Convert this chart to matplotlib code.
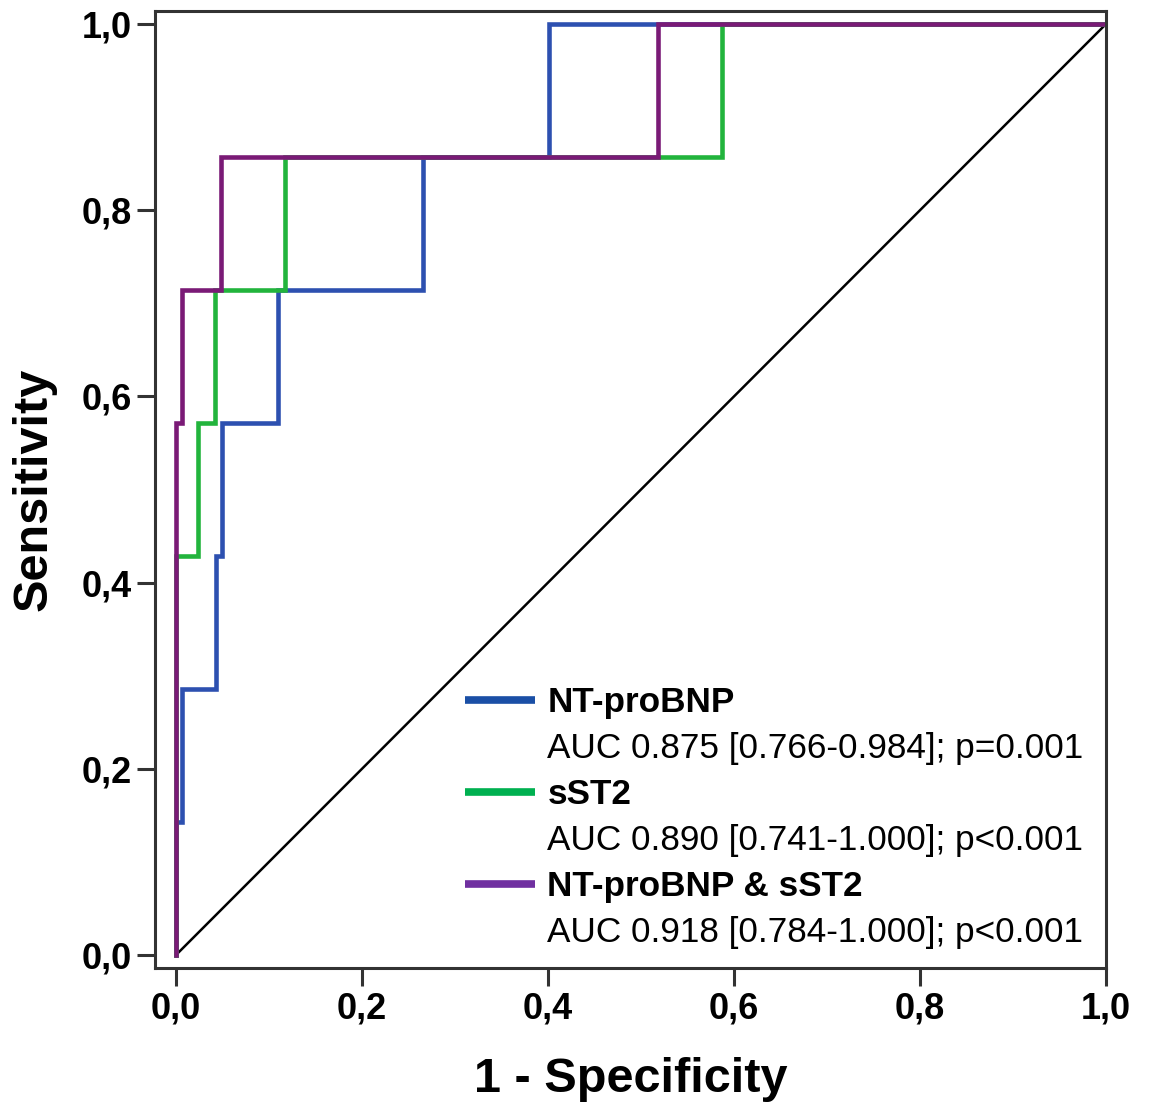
import matplotlib
matplotlib.use('Agg')
import matplotlib.pyplot as plt
from matplotlib.lines import Line2D

plt.rcParams['font.family'] = ['Liberation Sans', 'DejaVu Sans']

# ROC step vertices (1 - specificity, sensitivity)
ntprobnp_fpr = [0, 0, 0.006, 0.006, 0.043, 0.043, 0.049, 0.049, 0.110, 0.110, 0.266, 0.266, 0.401, 0.401, 1.0]
ntprobnp_tpr = [0, 1/7, 1/7, 2/7, 2/7, 3/7, 3/7, 4/7, 4/7, 5/7, 5/7, 6/7, 6/7, 1.0, 1.0]

sst2_fpr = [0, 0, 0.024, 0.024, 0.042, 0.042, 0.117, 0.117, 0.587, 0.587, 1.0]
sst2_tpr = [0, 3/7, 3/7, 4/7, 4/7, 5/7, 5/7, 6/7, 6/7, 1.0, 1.0]

combo_fpr = [0, 0, 0.006, 0.006, 0.048, 0.048, 0.518, 0.518, 1.0]
combo_tpr = [0, 4/7, 4/7, 5/7, 5/7, 6/7, 6/7, 1.0, 1.0]

names = ['NT-proBNP', 'sST2', 'NT-proBNP & sST2']
auc_texts = ['AUC 0.875 [0.766-0.984]; p=0.001',
             'AUC 0.890 [0.741-1.000]; p<0.001',
             'AUC 0.918 [0.784-1.000]; p<0.001']
line_colors = ['#2D50B0', '#22B43C', '#7A1A76']
legend_colors = ['#1A4FA6', '#00B050', '#7030A0']

ticks = [0.0, 0.2, 0.4, 0.6, 0.8, 1.0]
tick_labels = ['0,0', '0,2', '0,4', '0,6', '0,8', '1,0']

fig = plt.figure(figsize=(11.5, 11.05), dpi=100)
ax = fig.add_axes([0.1348, 0.124, 0.8269, 0.866])

ax.plot([0, 1], [0, 1], color='black', lw=1.8)
curves = [(ntprobnp_fpr, ntprobnp_tpr), (sst2_fpr, sst2_tpr), (combo_fpr, combo_tpr)]
for (fx, ty), c in zip(curves, line_colors):
    ax.plot(fx, ty, color=c, lw=3.3, solid_joinstyle='miter')

ax.set_xlim(-0.0226, 1.0)
ax.set_ylim(-0.014, 1.014)
ax.set_xticks(ticks)
ax.set_xticklabels(tick_labels)
ax.set_yticks(ticks)
ax.set_yticklabels(tick_labels)
ax.tick_params(direction='out', length=13, width=2.2, color='#333333',
               labelsize=26, pad=4)
for lab in ax.get_xticklabels() + ax.get_yticklabels():
    lab.set_fontweight('bold')
for sp in ax.spines.values():
    sp.set_color('#333333')
    sp.set_linewidth(2.2)

ax.set_xlabel('1 - Specificity', fontsize=35, fontweight='bold', labelpad=22)
ax.set_ylabel('Sensitivity', fontsize=35, fontweight='bold', labelpad=18)

handles, labels = [], []
for n, a, c in zip(names, auc_texts, legend_colors):
    handles.append(Line2D([], [], color=c, lw=5.5, solid_capstyle='butt'))
    labels.append(n)
    handles.append(Line2D([], [], color='none'))
    labels.append(a)
leg = ax.legend(handles, labels, loc='lower left', bbox_to_anchor=(0.326, 0.020),
                frameon=False, fontsize=25.3, handlelength=2.0, handletextpad=0.34,
                labelspacing=0.37, borderpad=0, borderaxespad=0)
for i, t in enumerate(leg.get_texts()):
    if i % 2 == 0:
        t.set_fontweight('bold')

fig.savefig('out.png', dpi=100)
